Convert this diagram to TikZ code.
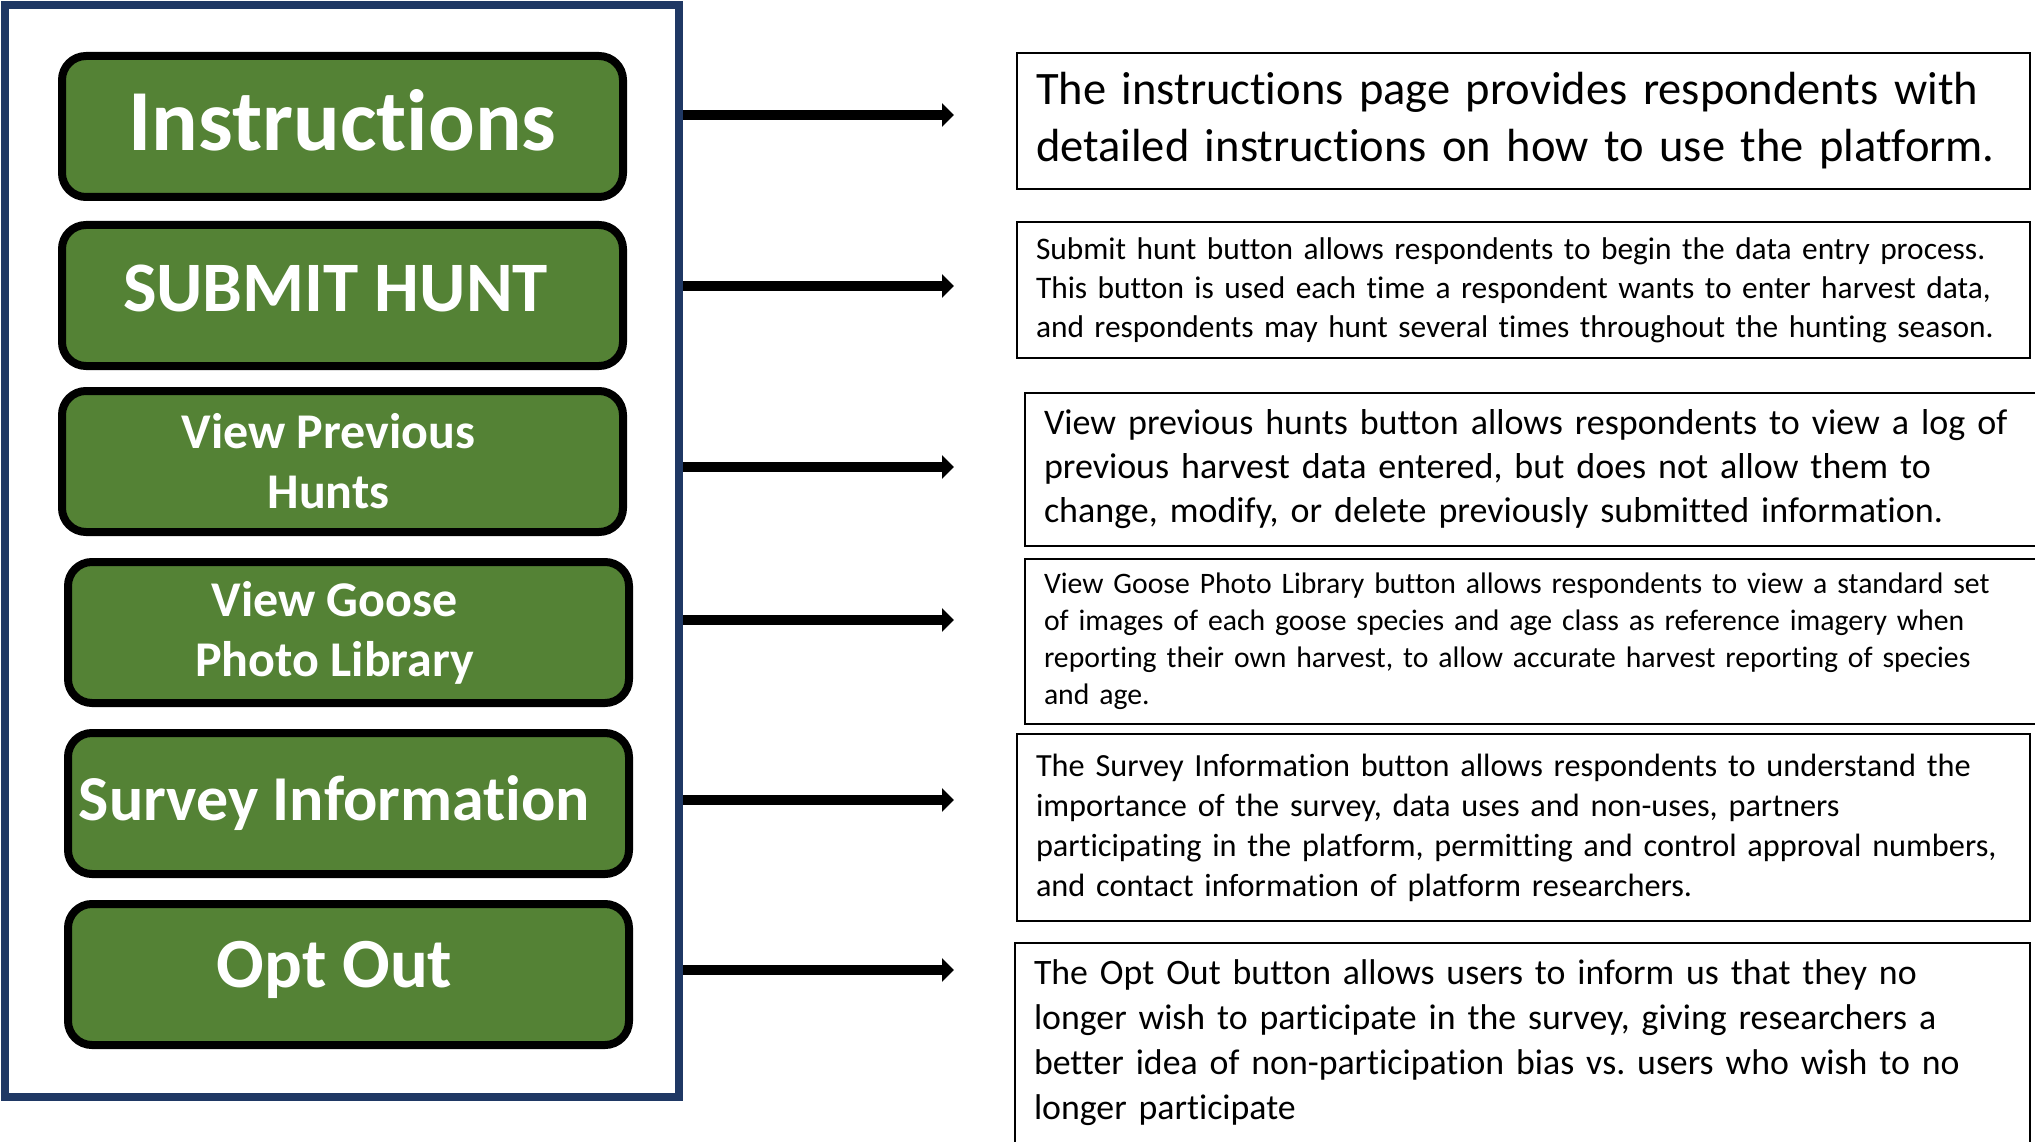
\documentclass[tikz,border=0pt]{standalone}
\usepackage{fontspec}
\setmainfont{Carlito}[Ligatures=NoCommon]
\usetikzlibrary{arrows.meta}
\definecolor{btngreen}{HTML}{548235}
\definecolor{navy}{HTML}{1F3864}
\tikzset{
  btn/.style={draw=black, line width=8pt, fill=btngreen, rounded corners=24pt,
    minimum width=561pt, minimum height=141pt, anchor=north west, inner sep=0pt,
    text=white, align=center},
  desc/.style={draw=black, line width=2pt, anchor=north west, align=left,
    inner xsep=19pt, inner ysep=0pt},
  arr/.style={line width=9.5pt, -{Triangle[length=12pt,width=23pt]}}
}
\newcommand{\sh}[1][28pt]{\hspace*{#1}}
\frenchspacing
\begin{document}
\begin{tikzpicture}[x=1pt,y=-1pt]
\useasboundingbox (0,0) rectangle (2035,1142);
\node[draw=navy, line width=8pt, minimum width=674pt, minimum height=1092pt, anchor=north west, inner sep=0pt] (panel) at (1,1) {};

\node[btn, text depth=14pt, font=\bfseries\fontsize{87}{100}\selectfont] (b1) at (58,52) {Instructions};
\node[btn, text depth=14pt, font=\bfseries\fontsize{71}{85}\selectfont] (b2) at (58,221) {SUBMIT HUNT\sh[14pt]};
\node[btn, font=\bfseries\fontsize{50}{60}\selectfont] (b3) at (58,387) {View Previous\sh\\Hunts\sh};
\node[btn, font=\bfseries\fontsize{50}{60}\selectfont] (b4) at (64,558) {View Goose\sh\\Photo Library\sh};
\node[btn, font=\bfseries\fontsize{64}{75}\selectfont] (b5) at (64,729) {Survey Information\sh};
\node[btn, text depth=20pt, font=\bfseries\fontsize{70.5}{85}\selectfont] (b6) at (64,900) {Opt Out\sh};

\node[desc, minimum height=136pt, text width=975pt, font=\fontsize{46.5}{57}\selectfont] (d1) at (1016,52)
  {The instructions page provides respondents with\\detailed instructions on how to use the platform.};
\node[desc, minimum height=136pt, text width=975pt, font=\fontsize{31.4}{39}\selectfont] (d2) at (1016,221)
  {Submit hunt button allows respondents to begin the data entry process.\\This button is used each time a respondent wants to enter harvest data,\\and respondents may hunt several times throughout the hunting season.};
\node[desc, minimum height=153pt, text width=985pt, font=\fontsize{36}{44}\selectfont] (d3) at (1024,392)
  {View previous hunts button allows respondents to view a log of\\previous harvest data entered, but does not allow them to\\change, modify, or delete previously submitted information.};
\node[desc, minimum height=165pt, text width=985pt, font=\fontsize{29.7}{37}\selectfont] (d4) at (1024,558)
  {View Goose Photo Library button allows respondents to view a standard set\\of images of each goose species and age class as reference imagery when\\reporting their own harvest, to allow accurate harvest reporting of species\\and age.};
\node[desc, minimum height=187pt, text width=975pt, font=\fontsize{32.3}{40}\selectfont] (d5) at (1016,733)
  {The Survey Information button allows respondents to understand the\\importance of the survey, data uses and non-uses, partners\\participating in the platform, permitting and control approval numbers,\\and contact information of platform researchers.};
\node[desc, minimum height=200pt, text width=977pt, font=\fontsize{35.8}{45}\selectfont] (d6) at (1014,942)
  {The Opt Out button allows users to inform us that they no\\longer wish to participate in the survey, giving researchers a\\better idea of non-participation bias vs. users who wish to no\\longer participate};

\foreach \i/\y in {1/115,2/286,3/467,4/620,5/800,6/970} {
  \coordinate (t\i) at (954,\y);
  \draw[arr] (panel.east |- t\i) -- (t\i);
}
\end{tikzpicture}
\end{document}
